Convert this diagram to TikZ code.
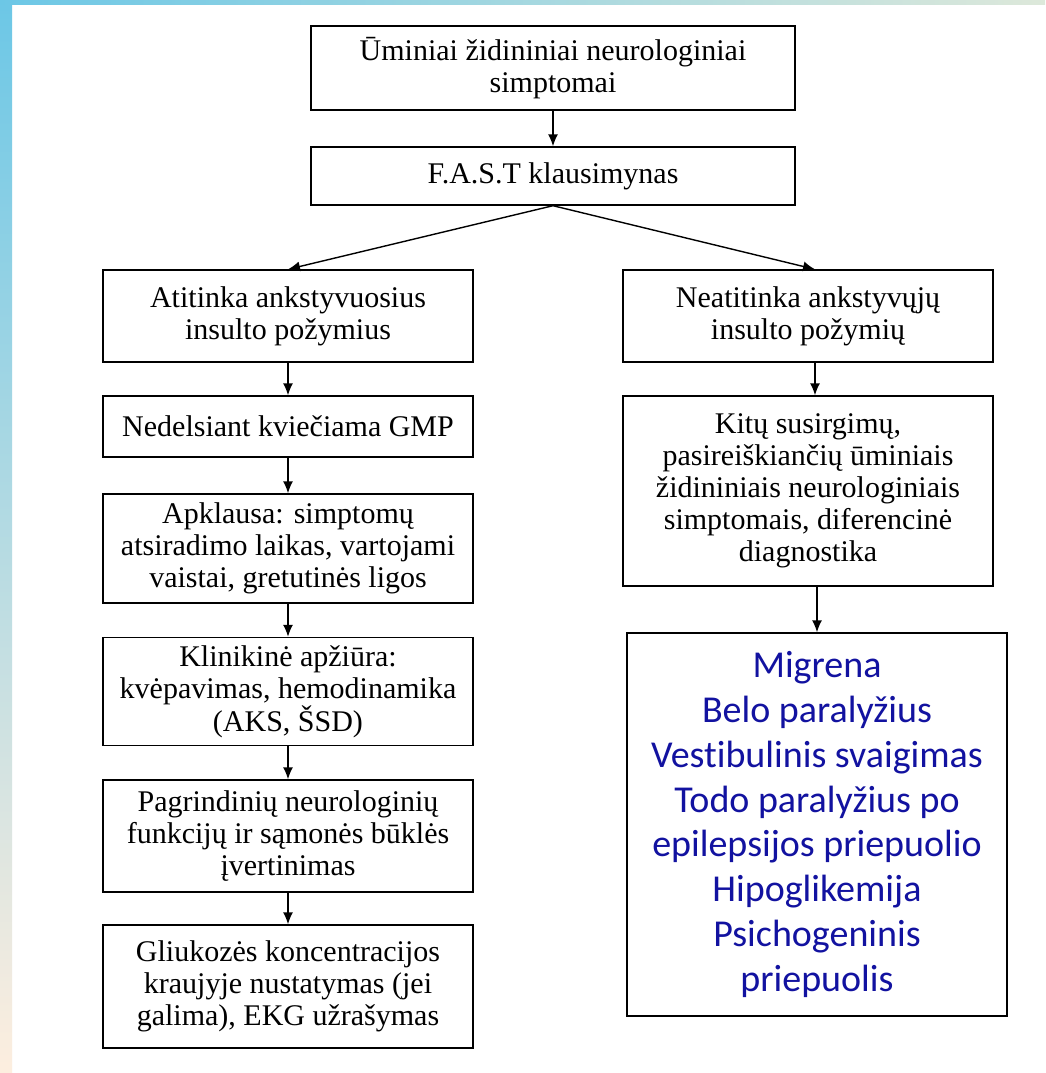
\documentclass[tikz,border=0pt]{standalone}
\usepackage{fontspec}
\setmainfont{Liberation Serif}
\newfontfamily\bluefont[Ligatures=NoCommon]{Carlito}
\usetikzlibrary{arrows.meta}
\definecolor{stripblue}{RGB}{108,199,230}
\definecolor{stripbeige}{RGB}{253,238,223}
\definecolor{stripgreen}{RGB}{221,232,218}
\definecolor{listblue}{RGB}{18,18,160}
\tikzset{
  box/.style={draw=black, line width=1.4pt, fill=white, inner sep=0pt, align=center,
    font=\fontsize{30}{32}\selectfont, minimum width=370pt},
  arr/.style={line width=1.4pt, -{Latex[length=12pt,width=10pt]}}
}
\begin{document}
\begin{tikzpicture}[x=1pt,y=-1pt]
\useasboundingbox (0,0) rectangle (1045,1073);
\fill[white] (0,0) rectangle (1045,1073);
\shade[top color=stripblue, bottom color=stripbeige] (0,0) rectangle (12,1073);
\shade[left color=stripblue, right color=stripgreen] (0,0) rectangle (1045,5);

\node[box, minimum width=484pt, minimum height=84pt] (b1) at (553,68) {Ūminiai židininiai neurologiniai\\simptomai};
\node[box, minimum width=484pt, minimum height=58pt] (b2) at (553,176) {F.A.S.T klausimynas};

\node[box, minimum height=92pt] (l1) at (288,316) {Atitinka ankstyvuosius\\insulto požymius};
\node[box, minimum height=61pt] (l2) at (288,426.5) {Nedelsiant kviečiama GMP};
\node[box, minimum height=109pt] (l3) at (288,548.5) {Apklausa: simptomų\\atsiradimo laikas, vartojami\\vaistai, gretutinės ligos};
\node[box, minimum height=108pt] (l4) at (288,691.5) {Klinikinė apžiūra:\\kvėpavimas, hemodinamika\\(AKS, ŠSD)};
\node[box, minimum height=112pt] (l5) at (288,836) {Pagrindinių neurologinių\\funkcijų ir sąmonės būklės\\įvertinimas};
\node[box, minimum height=123pt] (l6) at (288,986.5) {Gliukozės koncentracijos\\kraujyje nustatymas (jei\\galima), EKG užrašymas};

\node[box, minimum height=92pt] (r1) at (808,316) {Neatitinka ankstyvųjų\\insulto požymių};
\node[box, minimum height=190pt] (r2) at (808,491) {Kitų susirgimų,\\pasireiškiančių ūminiais\\židininiais neurologiniais\\simptomais, diferencinė\\diagnostika};
\node[box, minimum width=380pt, minimum height=383pt, text=listblue, font=\bluefont\fontsize{38}{44.8}\selectfont] (r3) at (817,824.5) {Migrena\\Belo paralyžius\\Vestibulinis svaigimas\\Todo paralyžius po\\epilepsijos priepuolio\\Hipoglikemija\\Psichogeninis\\priepuolis};

\draw[arr] (b1) -- (b2);
\draw[arr] (b2.south) -- (l1.north);
\draw[arr] (b2.south) -- ([xshift=7pt]r1.north);
\draw[arr] (l1) -- (l2);
\draw[arr] (l2) -- (l3);
\draw[arr] (l3) -- (l4);
\draw[arr] (l4) -- (l5);
\draw[arr] (l5) -- (l6);
\draw[arr] ([xshift=7pt]r1.south) -- ([xshift=7pt]r2.north);
\draw[arr] (r3.north |- r2.south) -- (r3.north);
\end{tikzpicture}
\end{document}
